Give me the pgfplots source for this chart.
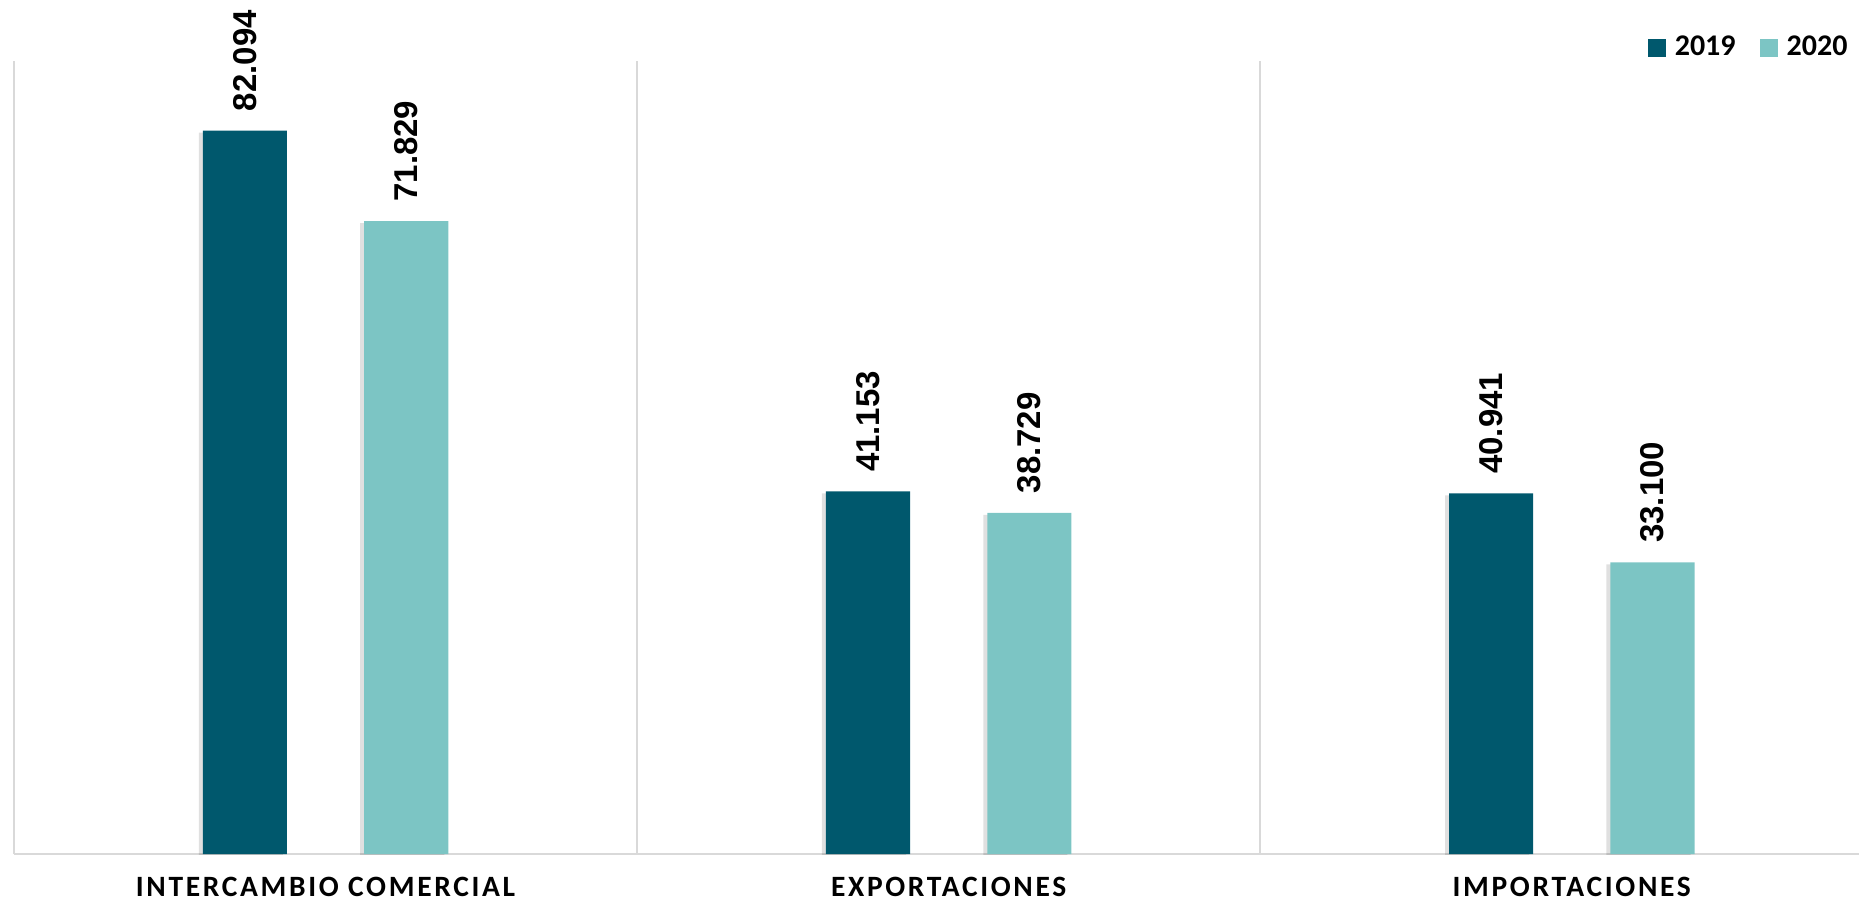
\documentclass[border=0pt]{standalone}
\usepackage{pgfplots}
\pgfplotsset{compat=1.18}
\usepackage{fontspec}
\setmainfont{Carlito}
\newfontfamily\arialfont{Liberation Sans}
\newfontfamily\catfont[LetterSpace=9]{Carlito}
\definecolor{dark}{HTML}{00586D}
\definecolor{light}{HTML}{7CC5C4}
\definecolor{gridgray}{HTML}{D9D9D9}

\begin{document}
\begin{tikzpicture}
\begin{axis}[
    name=ax,
    scale only axis,
    width=738pt, height=317.2pt,
    xmin=-0.5, xmax=2.461,
    ymin=0, ymax=90,
    ybar, bar width=0.135,
    axis line style={draw=none},
    ytick=\empty,
    xtick={0,1,2},
    xticklabels={INTERCAMBIO COMERCIAL, EXPORTACIONES, IMPORTACIONES},
    major tick length=0pt,
    xticklabel style={anchor=north, inner sep=0pt, yshift=-9.2pt, font=\catfont\fontsize{11.8}{14}\selectfont\bfseries},
    extra x ticks={-0.5,0.5,1.5},
    extra x tick labels={},
    extra x tick style={grid=major, major grid style={draw=gridgray, line width=0.8pt}},
    extra y ticks={0},
    extra y tick labels={},
    extra y tick style={grid=major, major grid style={draw=gridgray, line width=0.8pt}},
    nodes near coords,
    nodes near coords style={yshift=7.6pt, rotate=90, anchor=west, inner sep=0pt,
        font=\arialfont\fontsize{13.2}{15}\selectfont\bfseries, text=black,
        /pgf/number format/.cd, fixed, fixed zerofill, precision=3, assume math mode=true},
    legend columns=2,
    legend style={at={(0.994,1.0164)}, anchor=east, draw=none, fill=none,
        inner sep=0pt, font=\fontsize{12}{14}\selectfont\bfseries,
        nodes={inner sep=0pt},
        /tikz/every odd column/.append style={column sep=3.6pt},
        /tikz/every even column/.append style={column sep=9.6pt}},
    legend image code/.code={\fill[#1] (0pt,-3.6pt) rectangle (7.2pt,3.6pt);},
    bar shadow/.style={preaction={fill=black, opacity=0.12, draw=none,
        transform canvas={xshift=-1.6pt, yshift=-0.8pt}}},
]
\addlegendimage{fill=dark, draw=none}
\addlegendentry{2019}
\addlegendimage{fill=light, draw=none}
\addlegendentry{2020}
\addplot[fill=dark, draw=none, bar shadow, bar shift=-0.1295, forget plot] coordinates {(0,82.094) (1,41.153) (2,40.941)};
\addplot[fill=light, draw=none, bar shadow, bar shift=0.1295, forget plot] coordinates {(0,71.829) (1,38.729) (2,33.100)};
\end{axis}
\pgfresetboundingbox
\path[use as bounding box] (ax.south west) ++(-5.6pt,-20pt) rectangle ++(743.6pt,361.6pt);
\end{tikzpicture}
\end{document}
